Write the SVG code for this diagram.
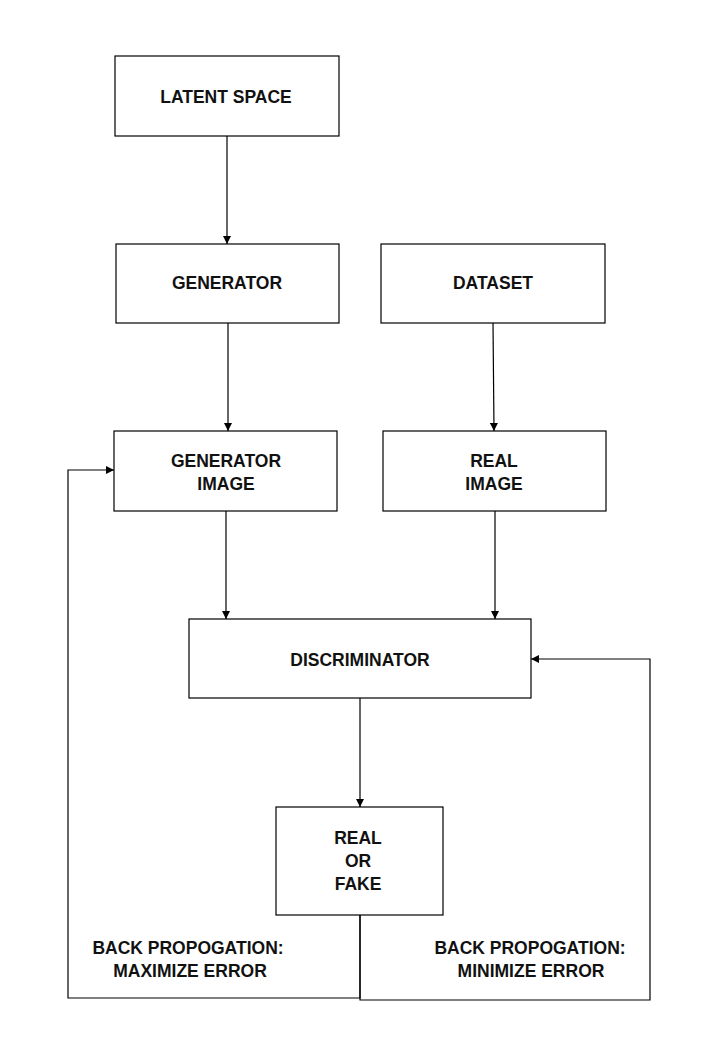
<svg xmlns="http://www.w3.org/2000/svg" width="720" height="1040" viewBox="0 0 720 1040">
<style>
.box{fill:#fff;stroke:#000;stroke-width:1.2}
.t{font-family:"Liberation Sans",Arial,sans-serif;font-weight:bold;font-size:17.5px;fill:#111;text-anchor:middle}
.c{fill:none;stroke:#000;stroke-width:1.2}
</style>
<defs>
<marker id="ah" viewBox="0 0 10 10" refX="10" refY="5" markerWidth="8" markerHeight="8" markerUnits="userSpaceOnUse" orient="auto">
<path d="M0,0 L10,5 L0,10 z" fill="#000"/>
</marker>
</defs>
<rect width="720" height="1040" fill="#fff"/>
<g id="latent"><rect class="box" x="115" y="56" width="224" height="80"/><text class="t" x="226" y="103">LATENT SPACE</text></g>
<g id="generator"><rect class="box" x="116" y="244" width="223" height="79"/><text class="t" x="227" y="289">GENERATOR</text></g>
<g id="dataset"><rect class="box" x="381" y="244" width="224" height="79"/><text class="t" x="493" y="289">DATASET</text></g>
<g id="genimage"><rect class="box" x="114" y="431" width="223" height="80"/><text class="t" x="226" y="467">GENERATOR</text><text class="t" x="226" y="490">IMAGE</text></g>
<g id="realimage"><rect class="box" x="383" y="431" width="223" height="80"/><text class="t" x="494" y="467">REAL</text><text class="t" x="494" y="490">IMAGE</text></g>
<g id="discriminator"><rect class="box" x="189" y="619" width="342" height="79"/><text class="t" x="360" y="666">DISCRIMINATOR</text></g>
<g id="realfake"><rect class="box" x="276" y="807" width="167" height="108"/><text class="t" x="358" y="844">REAL</text><text class="t" x="358" y="867">OR</text><text class="t" x="358" y="890">FAKE</text></g>
<g id="labels">
<text class="t" x="188" y="954">BACK PROPOGATION:</text>
<text class="t" x="190" y="977">MAXIMIZE ERROR</text>
<text class="t" x="530" y="954">BACK PROPOGATION:</text>
<text class="t" x="531" y="977">MINIMIZE ERROR</text>
</g>
<g id="connectors">
<path class="c" d="M227,136 L227,244" marker-end="url(#ah)"/>
<path class="c" d="M228,323 L228,431" marker-end="url(#ah)"/>
<path class="c" d="M493,323 L494,431" marker-end="url(#ah)"/>
<path class="c" d="M226,511 L226,619" marker-end="url(#ah)"/>
<path class="c" d="M495,511 L495,619" marker-end="url(#ah)"/>
<path class="c" d="M360,698 L360,807" marker-end="url(#ah)"/>
<path class="c" d="M360,915 L360,998 L68,998 L68,470 L114,470" marker-end="url(#ah)"/>
<path class="c" d="M360,915 L360,1000 L650,1000 L650,659 L531,659" marker-end="url(#ah)"/>
</g>
</svg>
